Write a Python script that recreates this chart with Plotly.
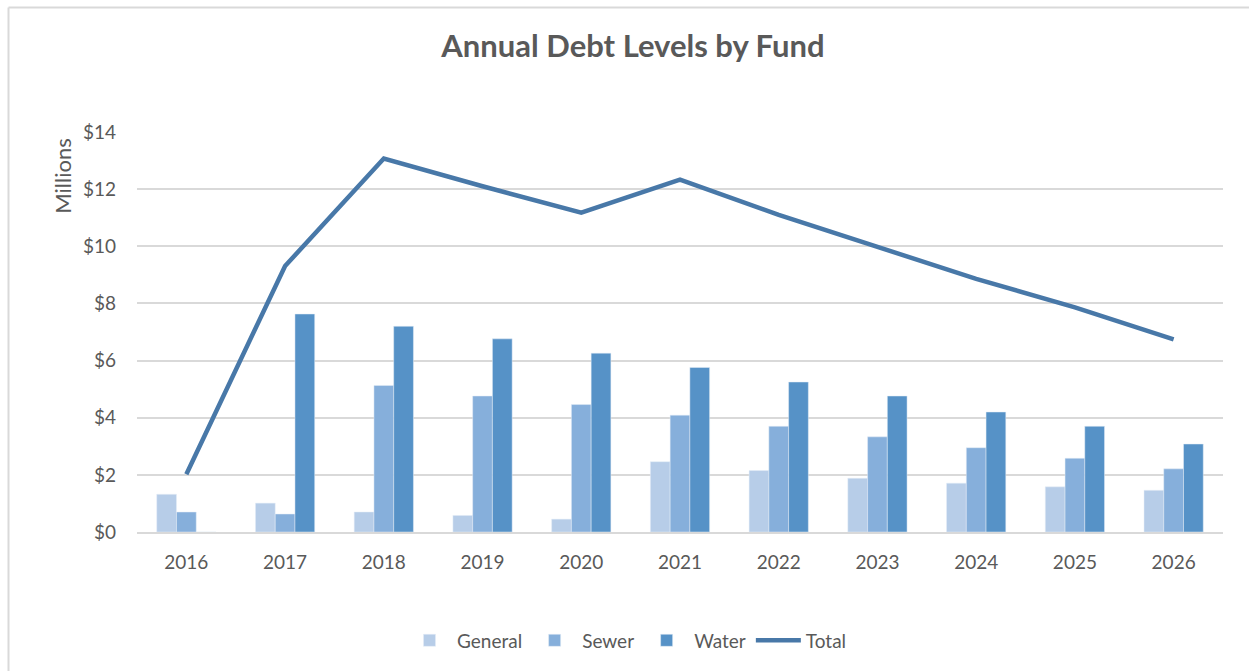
import plotly.graph_objects as go

# Annual debt by fund, in millions of dollars
years = ["2016", "2017", "2018", "2019", "2020", "2021", "2022", "2023", "2024", "2025", "2026"]
general = [1.32, 1.01, 0.70, 0.58, 0.45, 2.46, 2.15, 1.88, 1.71, 1.58, 1.46]
sewer = [0.70, 0.63, 5.13, 4.76, 4.46, 4.09, 3.70, 3.33, 2.95, 2.58, 2.21]
water = [0.00, 7.63, 7.20, 6.76, 6.26, 5.76, 5.25, 4.76, 4.20, 3.70, 3.08]
total = [2.02, 9.31, 13.07, 12.10, 11.18, 12.33, 11.10, 9.97, 8.86, 7.86, 6.74]
y_ticks = [0, 2, 4, 6, 8, 10, 12, 14]
y_tick_labels = ["$0", "$2", "$4", "$6", "$8", "$10", "$12", "$14"]

FONT = "Lato"
TEXT = "#595959"
GRID = "#D9D9D9"

fig = go.Figure()
fig.add_trace(go.Bar(name="General", x=years, y=general, marker_color="#B7CDE8"))
fig.add_trace(go.Bar(name="Sewer", x=years, y=sewer, marker_color="#86AFDB"))
fig.add_trace(go.Bar(name="Water", x=years, y=water, marker_color="#5692C7"))
fig.add_trace(go.Scatter(name="Total", x=years, y=total, mode="lines",
                         line=dict(color="#4878A8", width=4.5)))

# plot area edges in pixels, used to place the outer frame and labels
L, R, T, B = 137, 26, 132, 137
W, H = 1249, 671
pw, ph = W - L - R, H - T - B

def px_x(x):
    return (x - L) / pw

def px_y(y):
    return (H - B - y) / ph

fig.update_layout(
    width=W, height=H,
    margin=dict(l=L, r=R, t=T, b=B),
    paper_bgcolor="white", plot_bgcolor="white",
    font=dict(family=FONT, color=TEXT, size=19),
    barmode="group", bargap=0.4, bargroupgap=0,
    title=dict(text="<b>Annual Debt Levels by Fund</b>", x=633 / W, xref="container",
               xanchor="center", y=1 - 46 / H, yref="container", yanchor="middle",
               font=dict(family=FONT, size=31, color=TEXT)),
    xaxis=dict(showgrid=False, showline=True, linecolor=GRID, linewidth=1.5,
               ticks="", tickfont=dict(size=19, color=TEXT), ticklabelstandoff=12),
    yaxis=dict(range=[0, 14], tickvals=y_ticks, ticktext=y_tick_labels,
               showgrid=True, gridcolor=GRID, gridwidth=1.5, zeroline=False,
               showline=False, ticks="", tickfont=dict(size=19, color=TEXT),
               ticklabelstandoff=20),
    legend=dict(orientation="h", x=px_x(627), xanchor="center", y=px_y(643),
                yanchor="middle", font=dict(size=19, color=TEXT),
                itemwidth=45, traceorder="normal"),
    showlegend=True,
    annotations=[dict(text="Millions", textangle=-90, x=px_x(63), y=px_y(177),
                      xref="paper", yref="paper", xanchor="center", yanchor="middle",
                      showarrow=False, font=dict(size=22, color=TEXT))],
    shapes=[
        dict(type="line", xref="paper", yref="paper", x0=px_x(8.5), x1=px_x(1260),
             y0=px_y(7), y1=px_y(7), line=dict(color=GRID, width=2)),
        dict(type="line", xref="paper", yref="paper", x0=px_x(8.5), x1=px_x(8.5),
             y0=px_y(7), y1=px_y(690), line=dict(color=GRID, width=2)),
    ],
)

fig.write_html("out.html")
